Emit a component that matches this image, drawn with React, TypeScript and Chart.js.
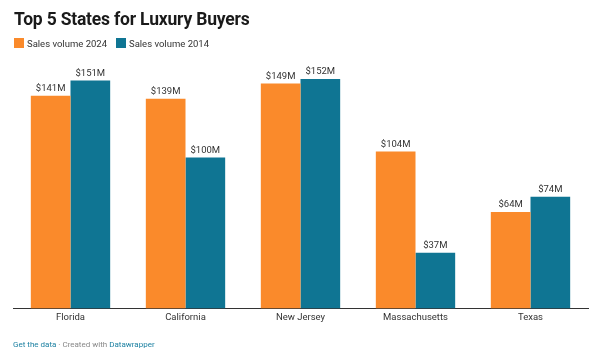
import React, { useEffect, useRef } from "react";
import { Chart, registerables } from "chart.js";

Chart.register(...registerables);

const categories = ["Florida", "California", "New Jersey", "Massachusetts", "Texas"];
const sales2024 = [141, 139, 149, 104, 64];
const sales2014 = [151, 100, 152, 37, 74];
const seriesNames = ["Sales volume 2024", "Sales volume 2014"];
const colors = ["#fa8a2b", "#0f7593"];
const yMax = 160;

const FONT = "Roboto, 'Noto Sans', sans-serif";

const labelPlugin = {
  id: "valueLabels",
  afterDatasetsDraw(chart: any) {
    const ctx = chart.ctx;
    ctx.save();
    ctx.font = `9.5px ${FONT}`;
    ctx.fillStyle = "#333333";
    ctx.textAlign = "center";
    ctx.textBaseline = "alphabetic";
    chart.data.datasets.forEach((ds: any, i: number) => {
      const meta = chart.getDatasetMeta(i);
      meta.data.forEach((el: any, j: number) => {
        ctx.fillText(`$${ds.data[j]}M`, el.x, el.y - 5);
      });
    });
    ctx.restore();
  },
};

export default function App() {
  const ref = useRef<HTMLCanvasElement>(null);
  useEffect(() => {
    document.body.style.margin = "0";
    const chart = new Chart(ref.current!, {
      type: "bar",
      data: {
        labels: categories,
        datasets: [
          { label: seriesNames[0], data: sales2024, backgroundColor: colors[0] },
          { label: seriesNames[1], data: sales2014, backgroundColor: colors[1] },
        ],
      },
      options: {
        animation: false,
        responsive: false,
        maintainAspectRatio: false,
        layout: { padding: { left: 13, right: 12, top: 67, bottom: 32 } },
        plugins: { legend: { display: false }, tooltip: { enabled: false } },
        datasets: { bar: { categoryPercentage: 0.69, barPercentage: 1.0 } },
        scales: {
          x: {
            grid: { display: false, drawTicks: false },
            border: { display: true, color: "#333333", width: 1 },
            ticks: { color: "#333333", font: { family: FONT, size: 9.5 }, padding: 3 },
          },
          y: {
            display: false,
            min: 0,
            max: yMax,
          },
        },
      },
      plugins: [labelPlugin],
    });
    return () => chart.destroy();
  }, []);

  return (
    <div style={{ position: "relative", width: 600, height: 358, background: "#fff", fontFamily: FONT }}>
      <canvas ref={ref} width={600} height={358} style={{ position: "absolute", left: 0, top: 0 }} />
      <div style={{ position: "absolute", left: 14, top: 8, fontSize: 17.5, lineHeight: "22px", fontWeight: 700, color: "#1a1a1a", letterSpacing: -0.2 }}>
        Top 5 States for Luxury Buyers
      </div>
      <div style={{ position: "absolute", left: 14, top: 38, height: 10, display: "flex", alignItems: "center", fontSize: 9.5, color: "#333" }}>
        <span style={{ width: 10, height: 10, background: colors[0], display: "inline-block", marginRight: 3 }} />
        <span style={{ marginRight: 9 }}>{seriesNames[0]}</span>
        <span style={{ width: 10, height: 10, background: colors[1], display: "inline-block", marginRight: 3 }} />
        <span>{seriesNames[1]}</span>
      </div>
      <div style={{ position: "absolute", left: 13, top: 340, lineHeight: "10px", fontSize: 8, color: "#888" }}>
        <span style={{ color: "#1d81a2" }}>Get the data</span> · Created with{" "}
        <span style={{ color: "#1d81a2" }}>Datawrapper</span>
      </div>
    </div>
  );
}
